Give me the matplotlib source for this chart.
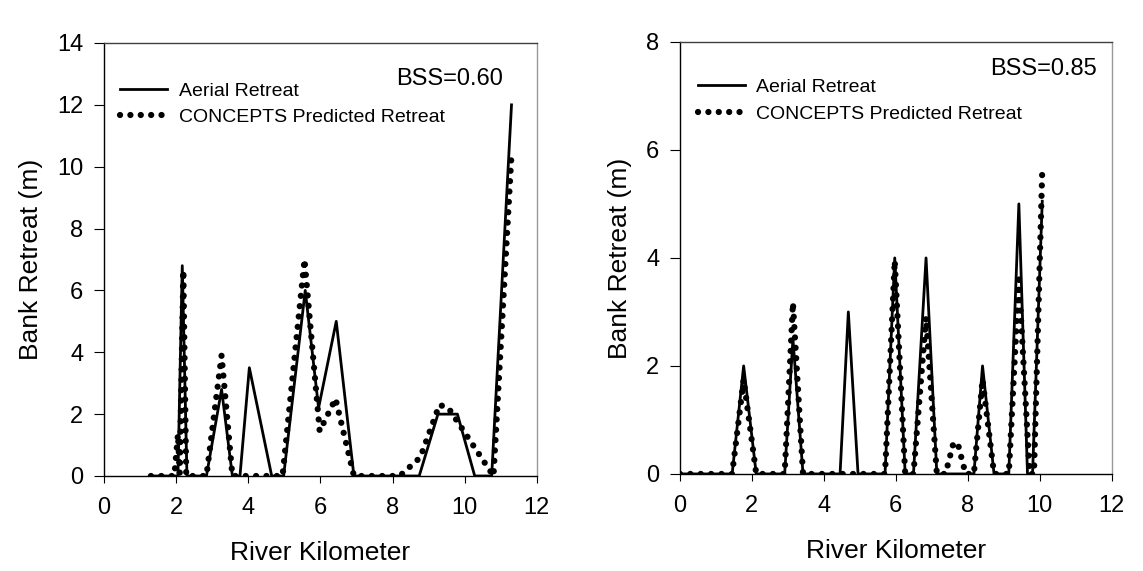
import matplotlib
matplotlib.use("Agg")
import matplotlib.pyplot as plt

plt.rcParams['font.family'] = ['Liberation Sans', 'DejaVu Sans']

# Panel kiri (BSS=0.60)
km_aerial_1 = [1.3, 2.05, 2.17, 2.3, 2.84, 3.26, 3.56, 3.77, 4.03, 4.65, 4.98,
               5.58, 5.95, 6.44, 6.93, 8.74, 9.26, 9.8, 10.28, 10.75, 11.3]
ret_aerial_1 = [0, 0, 6.8, 0, 0, 2.8, 0, 0, 3.5, 0, 0,
                6.0, 2.2, 5.0, 0, 0, 2.0, 2.0, 0, 0, 12.0]
km_pred_1 = [1.3, 1.95, 2.05, 2.1, 2.2, 2.28, 2.84, 3.26, 3.56, 4.95,
             5.56, 5.98, 6.42, 6.93, 8.2, 8.77, 9.3, 9.55, 10.8, 11.3]
ret_pred_1 = [0, 0, 1.35, 0.1, 6.65, 0, 0, 3.9, 0, 0,
              7.0, 1.45, 2.5, 0, 0, 0.6, 2.3, 2.2, 0, 10.4]

# Panel kanan (BSS=0.85)
km_aerial_2 = [0, 1.45, 1.77, 2.12, 2.91, 3.14, 3.42, 4.45, 4.68, 4.95, 5.7,
               5.97, 6.26, 6.49, 6.84, 7.14, 8.17, 8.41, 8.73, 9.14, 9.42,
               9.66, 9.8, 10.07]
ret_aerial_2 = [0, 0, 2.0, 0, 0, 2.5, 0, 0, 3.0, 0, 0,
                4.0, 0, 0, 4.0, 0, 0, 2.0, 0, 0, 5.0,
                0, 0, 5.05]
km_pred_2 = [0, 1.45, 1.77, 2.12, 2.91, 3.14, 3.42, 5.7, 5.97, 6.26, 6.49,
             6.84, 7.14, 7.38, 7.6, 7.72, 7.94, 8.17, 8.41, 8.73, 9.14,
             9.42, 9.72, 9.84, 10.07]
ret_pred_2 = [0, 0, 1.75, 0, 0, 3.17, 0, 0, 3.95, 0, 0,
              2.9, 0, 0, 0.57, 0.57, 0, 0, 1.75, 0, 0,
              3.6, 0, 0, 5.63]

x_ticks = [0, 2, 4, 6, 8, 10, 12]
y_ticks_1 = [0, 2, 4, 6, 8, 10, 12, 14]
y_ticks_2 = [0, 2, 4, 6, 8]

fig = plt.figure(figsize=(11.43, 5.71), dpi=100)
ax1 = fig.add_axes([0.091, 0.1664, 0.3786, 0.7583])
ax2 = fig.add_axes([0.5949, 0.170, 0.3777, 0.7566])

dot_style = dict(color='black', linewidth=4.5, linestyle=(0, (0.01, 1.65)),
                 dash_capstyle='round')

panels = [
    (ax1, km_aerial_1, ret_aerial_1, km_pred_1, ret_pred_1, y_ticks_1,
     'BSS=0.60', (0.922, 0.918), (0.038, 0.91)),
    (ax2, km_aerial_2, ret_aerial_2, km_pred_2, ret_pred_2, y_ticks_2,
     'BSS=0.85', (0.965, 0.938), (0.042, 0.915)),
]

for ax, xa, ya, xp, yp, yt, bss, bss_pos, leg_pos in panels:
    ax.plot(xa, ya, color='black', linewidth=2.0, label='Aerial Retreat')
    ax.plot(xp, yp, label='CONCEPTS Predicted Retreat', **dot_style)

    ax.set_xlim(0, 12)
    ax.set_ylim(0, yt[-1])
    ax.set_xticks(x_ticks)
    ax.set_yticks(yt)
    ax.tick_params(axis='x', direction='out', length=5, pad=10, labelsize=17)
    ax.tick_params(axis='y', direction='out', length=7, pad=8, labelsize=17)

    ax.spines['top'].set_color('#404040')
    ax.spines['right'].set_color('#999999')
    for s in ax.spines.values():
        s.set_linewidth(1.0)

    ax.set_xlabel('River Kilometer', fontsize=19, labelpad=16)
    ax.set_ylabel('Bank Retreat (m)', fontsize=19, labelpad=10)

    ax.text(bss_pos[0], bss_pos[1], bss, transform=ax.transAxes,
            ha='right', va='center', fontsize=17)

    ax.legend(loc='upper left', bbox_to_anchor=leg_pos, frameon=False,
              fontsize=14, handlelength=2.4, handletextpad=0.6,
              labelspacing=0.45, borderpad=0, borderaxespad=0)

fig.savefig('out.png', dpi=100)
